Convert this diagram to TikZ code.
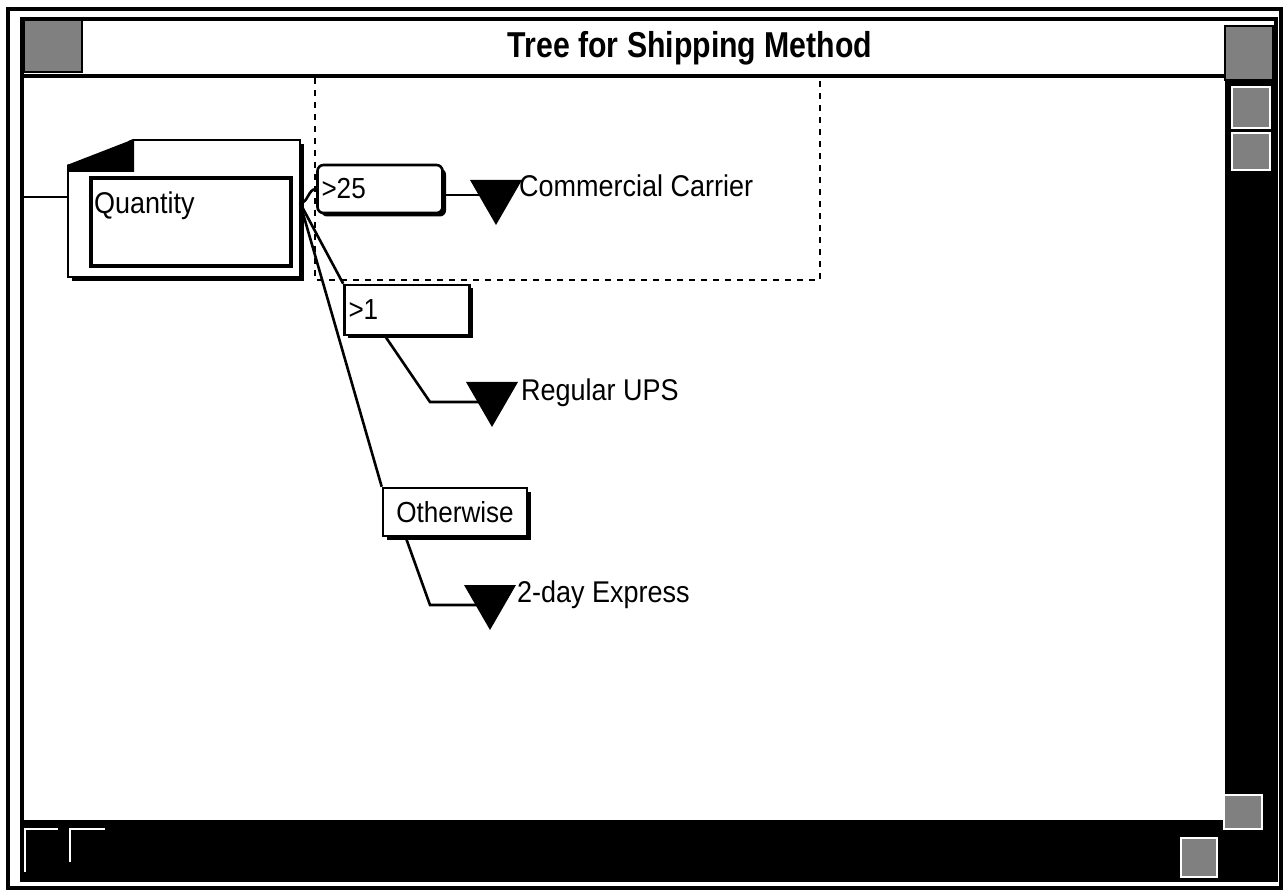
\documentclass[tikz,border=0pt]{standalone}
\usepackage{fontspec}
\setmainfont{Liberation Sans}[FakeStretch=0.9]
\newfontfamily\titlefont{Liberation Sans}[FakeStretch=0.84]
\usetikzlibrary{shapes.geometric,shadows}

\tikzset{
    wire/.style={line width=2.6pt},
    cond/.style={draw, line width=2.6pt, fill=white, inner sep=4pt, align=left,
        font=\fontsize{29}{30}\selectfont,
        drop shadow={shadow xshift=3.5pt, shadow yshift=-3.5pt, fill=black, opacity=1}},
    leaf/.style={regular polygon, regular polygon sides=3, shape border rotate=180,
        fill=black, minimum size=60pt, inner sep=0pt},
    leaflabel/.style={anchor=base west, inner sep=0pt, font=\fontsize{30}{30}\selectfont},
    dither/.style={line width=2pt, fill=black!50},
}

\begin{document}
\begin{tikzpicture}[x=1pt, y=-1pt]
    \useasboundingbox (0,0) rectangle (1286,893);
    \fill [white] (0,0) rectangle (1286,893);

    \draw [line width=4pt] (8,9) rectangle (1281,888);
    \draw [line width=3.5pt] (22,19) rectangle (1276,880);
    \draw [line width=4pt] (22,76) -- (1225,76);
    \draw [dither] (24,20) rectangle (82,72);
    \draw [dither] (1225,26) rectangle (1273,80);
    \node [font=\titlefont\bfseries\fontsize{36}{40}\selectfont, anchor=base] (title) at (690,58) {Tree for Shipping Method};

    \fill (1225,80) rectangle (1276,820);
    \draw [dither, draw=white] (1232,87) rectangle (1270,128);
    \draw [dither, draw=white] (1232,133) rectangle (1270,170);
    \fill (22,820) rectangle (1276,880);
    \draw [dither, draw=white] (1224,795) rectangle (1262,829);
    \draw [dither, draw=white] (1181,838) rectangle (1217,877);
    \draw [white, line width=2pt] (25,872) -- (25,829) -- (58,829);
    \draw [white, line width=2pt] (70,862) -- (70,829) -- (105,829);

    \draw [line width=2.4pt, dash pattern=on 6pt off 6pt] (315,78) -- (315,280) -- (820,280) -- (820,78);

    \node [draw, line width=2.6pt, fill=white, minimum width=232pt, minimum height=137pt,
        drop shadow={shadow xshift=4pt, shadow yshift=-4pt, fill=black, opacity=1}] (qframe) at (184,208.5) {};
    \fill [white] (64,136) -- (133,136) -- (133,139) -- (64,166) -- cycle;
    \fill (67,172) -- (67,165) -- (134,139) -- (134,172) -- cycle;
    \node [draw, line width=3.2pt, minimum width=200pt, minimum height=88pt] (quantity) at (191,222) {};
    \node [anchor=base west, inner sep=0pt, font=\fontsize{30}{30}\selectfont] (qlabel) at (94,214) {Quantity};
    \coordinate (entry) at (24,197);
    \coordinate (qout) at (300,203);

    \node [cond, rounded corners=6pt, text width=117pt, minimum height=48pt] (gt25) at (380,189) {>25};
    \node [cond, text width=117pt, minimum height=50pt] (gt1) at (407,310) {>1};
    \node [cond, minimum width=144pt, minimum height=48pt, inner sep=3pt] (other) at (455,512) {Otherwise};

    \node [leaf] (tri1) at (496,195) {};
    \node [leaf] (tri2) at (492,397) {};
    \node [leaf] (tri3) at (490,600) {};
    \node [leaflabel] (carrier) at (519,197) {Commercial Carrier};
    \node [leaflabel] (ups) at (521,400) {Regular UPS};
    \node [leaflabel] (express) at (517,602) {2-day Express};

    \draw [wire] (entry) -- (entry -| qframe.west);
    \draw [wire] (qout) to [out=0, in=180] (gt25.west);
    \draw [wire] (qout) -- (gt1.north west);
    \draw [wire] (qout) -- (other.north west);

    \coordinate (k1) at ([yshift=-6pt]gt25.east);
    \coordinate (k2) at (430,402);
    \coordinate (k3) at (430,605);
    \draw [wire] (k1) -- (tri1.center |- k1);
    \draw [wire] ([xshift=42pt]gt1.south west) -- (k2) -- (tri2.center |- k2);
    \draw [wire] ([xshift=24pt]other.south west) -- (k3) -- (tri3.center |- k3);
\end{tikzpicture}
\end{document}
